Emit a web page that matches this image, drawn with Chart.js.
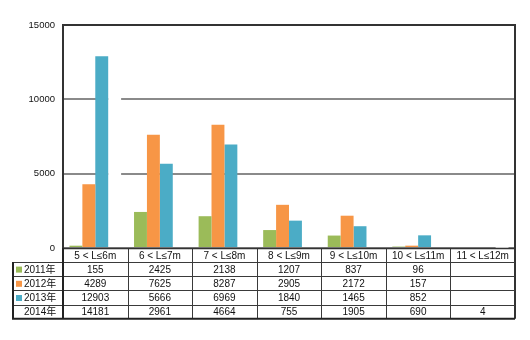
<!DOCTYPE html>
<html>
<head>
<meta charset="utf-8">
<script src="https://cdn.jsdelivr.net/npm/chart.js@4"></script>
<style>
    html, body { margin: 0; padding: 0; background: #fff; }
    #wrap { width: 530px; height: 340px; }
</style>
</head>
<body>
<div id="wrap"><canvas id="lengthChart"></canvas></div>
<script>
// Kategoriler (boy aralıkları) ve yıllara göre değerler
const categories = ['5 < L≤6m', '6 < L≤7m', '7 < L≤8m', '8 < L≤9m', '9 < L≤10m', '10 < L≤11m', '11 < L≤12m'];
const years = ['2011年', '2012年', '2013年', '2014年'];
const values2011 = [155, 2425, 2138, 1207, 837, 96, null];
const values2012 = [4289, 7625, 8287, 2905, 2172, 157, null];
const values2013 = [12903, 5666, 6969, 1840, 1465, 852, null];
const values2014 = [14181, 2961, 4664, 755, 1905, 690, 4];
const yTicks = [0, 5000, 10000, 15000];

const colors = ['#9bbb59', '#f79646', '#4bacc6', '#ffffff'];
const FONT = "'Liberation Sans', Arial, 'Noto Sans CJK SC', sans-serif";

// Alt kısımdaki veri tablosu + çerçeve
const dataTable = {
    id: 'dataTable',
    afterDraw(chart) {
        const ctx = chart.ctx;
        const area = chart.chartArea;
        const x = chart.scales.x;
        const colW = (area.right - area.left) / categories.length;
        const headH = 14, rowH = 14.2;
        const tableLeft = 13;
        const top = area.bottom;
        const rows = [values2011, values2012, values2013, values2014];
        const bottom = top + headH + rowH * rows.length;

        ctx.save();
        // grafik çerçevesi
        ctx.strokeStyle = '#333';
        ctx.lineWidth = 2;
        ctx.beginPath();
        ctx.moveTo(area.left, area.bottom);
        ctx.lineTo(area.left, area.top);
        ctx.lineTo(area.right, area.top);
        ctx.lineTo(area.right, bottom);
        ctx.stroke();

        // iç çizgiler
        ctx.lineWidth = 1;
        ctx.strokeStyle = '#3a3a3a';
        ctx.beginPath();
        for (let r = 0; r < rows.length; r++) {
            const y = Math.round(top + headH + rowH * r) + 0.5;
            ctx.moveTo(tableLeft, y);
            ctx.lineTo(area.right, y);
        }
        for (let i = 1; i < categories.length; i++) {
            const cx = Math.round(area.left + colW * i) + 0.5;
            ctx.moveTo(cx, top);
            ctx.lineTo(cx, bottom);
        }
        ctx.stroke();

        // sıfır çizgisi (tablonun üst kenarı)
        ctx.lineWidth = 1.5;
        ctx.strokeStyle = '#333';
        ctx.beginPath();
        ctx.moveTo(area.left, top + 0.5);
        ctx.lineTo(area.right, top + 0.5);
        ctx.stroke();

        // dış kenar (kalın)
        ctx.lineWidth = 2;
        ctx.strokeStyle = '#222';
        ctx.beginPath();
        ctx.moveTo(area.left, top);
        ctx.lineTo(area.left, bottom);
        ctx.moveTo(tableLeft, top + headH);
        ctx.lineTo(tableLeft, bottom);
        ctx.lineTo(area.right, bottom);
        ctx.stroke();

        // metinler
        ctx.font = '10px ' + FONT;
        ctx.fillStyle = '#111';
        ctx.textAlign = 'center';
        ctx.textBaseline = 'middle';
        categories.forEach((c, i) => {
            ctx.fillText(c, x.getPixelForValue(i), top + headH / 2 + 1);
        });
        rows.forEach((vals, r) => {
            const cy = top + headH + rowH * r + rowH / 2 + 1;
            vals.forEach((v, i) => {
                if (v !== null) ctx.fillText(String(v), x.getPixelForValue(i), cy);
            });
        });

        // satır başlıkları ve renk kutuları
        ctx.textAlign = 'left';
        years.forEach((name, r) => {
            const cy = top + headH + rowH * r + rowH / 2 + 1;
            if (r < 3) {
                ctx.fillStyle = colors[r];
                ctx.fillRect(16, cy - 3.5, 6, 6);
            }
            ctx.fillStyle = '#111';
            ctx.fillText(name, 24, cy);
        });
        ctx.restore();
    }
};

const ctx = document.getElementById('lengthChart').getContext('2d');
new Chart(ctx, {
    type: 'bar',
    data: {
        labels: categories,
        datasets: [values2011, values2012, values2013, values2014].map((vals, i) => ({
            label: years[i],
            data: vals,
            backgroundColor: colors[i],
            borderWidth: 0,
            barPercentage: 1,
            categoryPercentage: 0.8
        }))
    },
    options: {
        responsive: true,
        maintainAspectRatio: false,
        animation: false,
        layout: { padding: { left: 0, top: 25, right: 15, bottom: 92 } },
        scales: {
            x: { display: false },
            y: {
                min: yTicks[0],
                max: yTicks[yTicks.length - 1],
                afterFit(scale) { scale.width = 63; },
                afterBuildTicks(scale) { scale.ticks = yTicks.map(v => ({ value: v })); },
                ticks: {
                    padding: 8,
                    color: '#111',
                    font: { family: FONT, size: 9.5 },
                    callback: v => String(v)
                },
                grid: { color: '#8a8a8a', lineWidth: 2, drawTicks: false },
                border: { display: false }
            }
        },
        plugins: {
            legend: { display: false },
            tooltip: { enabled: false }
        }
    },
    plugins: [dataTable]
});
</script>
</body>
</html>
